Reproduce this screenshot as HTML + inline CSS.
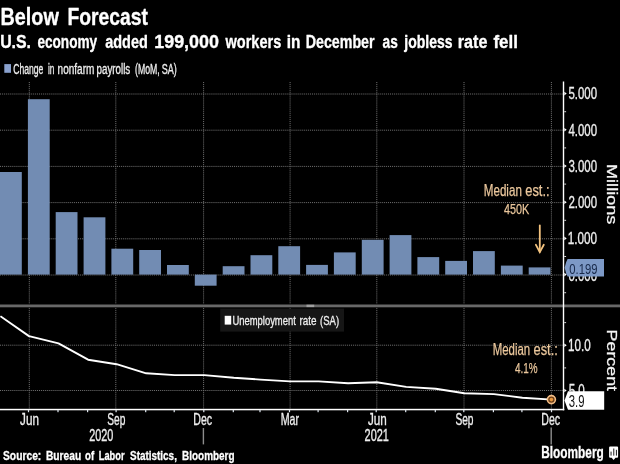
<!DOCTYPE html>
<html lang="en"><head><meta charset="utf-8"><title>Below Forecast</title>
<style>
html,body{margin:0;padding:0;background:#000;}
body{width:620px;height:464px;overflow:hidden;}
svg{display:block;font-family:"Liberation Sans", Arial, sans-serif;}
text{white-space:pre;}
</style></head><body>
<svg width="620" height="464" viewBox="0 0 620 464">
<rect x="0" y="0" width="620" height="464" fill="#000"/>
<text y="25.4" font-size="24.3" font-weight="bold" fill="#fff" stroke="#fff" stroke-width="0.35" stroke-linejoin="round"><tspan x="0.48" textLength="58.33" lengthAdjust="spacingAndGlyphs">Below</tspan> <tspan x="67.51" textLength="80.37" lengthAdjust="spacingAndGlyphs">Forecast</tspan></text>
<text y="47.6" font-size="18.8" font-weight="bold" fill="#fff" stroke="#fff" stroke-width="0.35" stroke-linejoin="round"><tspan x="0.15" textLength="30.87" lengthAdjust="spacingAndGlyphs">U.S.</tspan> <tspan x="37.4" textLength="59.8" lengthAdjust="spacingAndGlyphs">economy</tspan> <tspan x="105.2" textLength="42.56" lengthAdjust="spacingAndGlyphs">added</tspan> <tspan x="154.25" textLength="64.68" lengthAdjust="spacingAndGlyphs">199,000</tspan> <tspan x="225.47" textLength="55.77" lengthAdjust="spacingAndGlyphs">workers</tspan> <tspan x="286.68" textLength="13.71" lengthAdjust="spacingAndGlyphs">in</tspan> <tspan x="305.74" textLength="68.83" lengthAdjust="spacingAndGlyphs">December</tspan> <tspan x="382.6" textLength="15.22" lengthAdjust="spacingAndGlyphs">as</tspan> <tspan x="404.25" textLength="48.29" lengthAdjust="spacingAndGlyphs">jobless</tspan> <tspan x="457.74" textLength="29.64" lengthAdjust="spacingAndGlyphs">rate</tspan> <tspan x="493.5" textLength="24.4" lengthAdjust="spacingAndGlyphs">fell</tspan></text>
<rect x="4.3" y="64.1" width="6.7" height="8.7" fill="#8aa2cf"/>
<text y="73.5" font-size="13.8" font-weight="normal" fill="#eee" stroke="#eee" stroke-width="0.32"><tspan x="13.2" textLength="30.1" lengthAdjust="spacingAndGlyphs">Change</tspan> <tspan x="48.0" textLength="6.4" lengthAdjust="spacingAndGlyphs">in</tspan> <tspan x="57.6" textLength="36.76" lengthAdjust="spacingAndGlyphs">nonfarm</tspan> <tspan x="96.5" textLength="33.73" lengthAdjust="spacingAndGlyphs">payrolls</tspan> <tspan x="135.0" textLength="24.73" lengthAdjust="spacingAndGlyphs">(MoM,</tspan> <tspan x="161.8" textLength="15.09" lengthAdjust="spacingAndGlyphs">SA)</tspan></text>
<g stroke="#707070" stroke-width="1" stroke-dasharray="1 0.95" fill="none">
<line x1="0" y1="275.0" x2="563.5" y2="275.0"/>
<line x1="0" y1="238.8" x2="563.5" y2="238.8"/>
<line x1="0" y1="202.6" x2="563.5" y2="202.6"/>
<line x1="0" y1="166.4" x2="563.5" y2="166.4"/>
<line x1="0" y1="130.2" x2="563.5" y2="130.2"/>
<line x1="0" y1="94.0" x2="563.5" y2="94.0"/>
<line x1="29.3" y1="82" x2="29.3" y2="304"/>
<line x1="29.3" y1="306" x2="29.3" y2="409"/>
<line x1="115.8" y1="82" x2="115.8" y2="304"/>
<line x1="115.8" y1="306" x2="115.8" y2="409"/>
<line x1="203.6" y1="82" x2="203.6" y2="304"/>
<line x1="203.6" y1="306" x2="203.6" y2="409"/>
<line x1="290.1" y1="82" x2="290.1" y2="304"/>
<line x1="290.1" y1="306" x2="290.1" y2="409"/>
<line x1="376.8" y1="82" x2="376.8" y2="304"/>
<line x1="376.8" y1="306" x2="376.8" y2="409"/>
<line x1="464" y1="82" x2="464" y2="304"/>
<line x1="464" y1="306" x2="464" y2="409"/>
<line x1="551.4" y1="82" x2="551.4" y2="304"/>
<line x1="551.4" y1="306" x2="551.4" y2="409"/>
<line x1="0" y1="390.5" x2="563.5" y2="390.5"/>
<line x1="0" y1="345.2" x2="563.5" y2="345.2"/>
</g>
<g fill="#728cb3">
<rect x="0.0" y="172.0" width="21.8" height="102.6"/>
<rect x="27.9" y="99.2" width="21.8" height="175.4"/>
<rect x="55.7" y="212.1" width="21.8" height="62.5"/>
<rect x="83.6" y="217.3" width="21.8" height="57.3"/>
<rect x="111.4" y="248.7" width="21.8" height="25.9"/>
<rect x="139.2" y="250.0" width="21.8" height="24.6"/>
<rect x="167.0" y="265.0" width="21.8" height="9.6"/>
<rect x="194.8" y="274.6" width="21.8" height="11.1"/>
<rect x="222.7" y="266.2" width="21.8" height="8.4"/>
<rect x="250.5" y="255.2" width="21.8" height="19.4"/>
<rect x="278.3" y="246.2" width="21.8" height="28.4"/>
<rect x="306.1" y="264.9" width="21.8" height="9.7"/>
<rect x="333.9" y="252.4" width="21.8" height="22.2"/>
<rect x="361.8" y="239.8" width="21.8" height="34.8"/>
<rect x="389.6" y="235.1" width="21.8" height="39.5"/>
<rect x="417.4" y="257.1" width="21.8" height="17.5"/>
<rect x="445.2" y="260.9" width="21.8" height="13.7"/>
<rect x="473.0" y="251.1" width="21.8" height="23.5"/>
<rect x="500.9" y="265.6" width="21.8" height="9.0"/>
<rect x="528.7" y="267.4" width="21.8" height="7.2"/>
</g>
<text y="196.2" font-size="15.8" font-weight="normal" fill="#ebc79c" stroke="#ebc79c" stroke-width="0.25"><tspan x="483.76" textLength="38.11" lengthAdjust="spacingAndGlyphs">Median</tspan> <tspan x="525.2" textLength="24.44" lengthAdjust="spacingAndGlyphs">est.:</tspan></text>
<text y="214.4" font-size="15.2" font-weight="normal" fill="#ebc79c" stroke="#ebc79c" stroke-width="0.25"><tspan x="503.9" textLength="25.29" lengthAdjust="spacingAndGlyphs">450K</tspan></text>
<g stroke="#f2c27e" stroke-width="1.8" fill="none" stroke-linecap="round"><line x1="539.8" y1="225.5" x2="539.8" y2="251.8"/><polyline points="535.9,244.8 539.8,252.2 543.8,244.8"/></g>
<rect x="0" y="304.5" width="620" height="2.8" fill="#686868"/>
<rect x="306.5" y="304.7" width="7.7" height="2.4" fill="#a0a0a0"/>
<rect x="220.2" y="308.6" width="123.8" height="23" fill="#161616"/>
<rect x="224.7" y="315.8" width="6.5" height="8.8" fill="#fff"/>
<text y="325.3" font-size="13.2" font-weight="normal" fill="#eee" stroke="#eee" stroke-width="0.32"><tspan x="232.38" textLength="63.48" lengthAdjust="spacingAndGlyphs">Unemployment</tspan> <tspan x="299.4" textLength="17.05" lengthAdjust="spacingAndGlyphs">rate</tspan> <tspan x="320.0" textLength="19.08" lengthAdjust="spacingAndGlyphs">(SA)</tspan></text>
<polyline points="0.4,316.2 29.0,336.1 58.5,343.4 88.1,359.7 116.6,364.2 146.2,373.3 174.7,375.1 204.3,375.1 233.8,377.8 260.5,379.6 290.0,381.4 318.6,381.4 348.1,383.3 376.7,382.3 406.2,386.9 435.8,388.7 464.3,393.2 493.9,394.1 522.4,397.7 552.0,399.6" fill="none" stroke="#fff" stroke-width="1.9" stroke-linejoin="round"/>
<text y="355.2" font-size="15.8" font-weight="normal" fill="#ebc79c" stroke="#ebc79c" stroke-width="0.25"><tspan x="492.68" textLength="37.49" lengthAdjust="spacingAndGlyphs">Median</tspan> <tspan x="533.5" textLength="24.33" lengthAdjust="spacingAndGlyphs">est.:</tspan></text>
<text y="373.3" font-size="15.2" font-weight="normal" fill="#ebc79c" stroke="#ebc79c" stroke-width="0.25"><tspan x="515.0" textLength="22.63" lengthAdjust="spacingAndGlyphs">4.1%</tspan></text>
<circle cx="551.4" cy="399.6" r="4.0" fill="#6e4018" stroke="#f3bd85" stroke-width="1.6"/><circle cx="551.4" cy="399.6" r="1.8" fill="#e8963c"/>
<rect x="562.8" y="81.5" width="1.4" height="328.8" fill="#fff"/>
<rect x="0" y="408.8" width="564.3" height="1.5" fill="#fff"/>
<g fill="#fff">
<polygon points="564.3,236.6 566.7,238.4 564.3,240.2"/>
<polygon points="564.3,200.4 566.7,202.2 564.3,204.0"/>
<polygon points="564.3,164.2 566.7,166.0 564.3,167.8"/>
<polygon points="564.3,128.0 566.7,129.8 564.3,131.6"/>
<polygon points="564.3,91.8 566.7,93.6 564.3,95.4"/>
<rect x="564.3" y="292.2" width="1.8" height="1" opacity="0.85"/>
<rect x="564.3" y="256.0" width="1.8" height="1" opacity="0.85"/>
<rect x="564.3" y="219.8" width="1.8" height="1" opacity="0.85"/>
<rect x="564.3" y="183.6" width="1.8" height="1" opacity="0.85"/>
<rect x="564.3" y="147.4" width="1.8" height="1" opacity="0.85"/>
<rect x="564.3" y="111.2" width="1.8" height="1" opacity="0.85"/>
<polygon points="564.3,272.8 566.7,274.6 564.3,276.4"/>
<polygon points="564.3,388.7 566.7,390.5 564.3,392.3"/>
<polygon points="564.3,343.4 566.7,345.2 564.3,347.0"/>
<rect x="564.3" y="367.4" width="1.8" height="1" opacity="0.85"/>
<rect x="564.3" y="322.1" width="1.8" height="1" opacity="0.85"/>
</g>
<g fill="#dfe6ee">
<rect x="27.9" y="410" width="1.2" height="2.2"/>
<rect x="57.4" y="410" width="1.2" height="2.2"/>
<rect x="87.0" y="410" width="1.2" height="2.2"/>
<rect x="115.5" y="410" width="1.2" height="2.2"/>
<rect x="145.1" y="410" width="1.2" height="2.2"/>
<rect x="173.6" y="410" width="1.2" height="2.2"/>
<rect x="203.2" y="410" width="1.2" height="2.2"/>
<rect x="232.7" y="410" width="1.2" height="2.2"/>
<rect x="259.4" y="410" width="1.2" height="2.2"/>
<rect x="288.9" y="410" width="1.2" height="2.2"/>
<rect x="317.5" y="410" width="1.2" height="2.2"/>
<rect x="347.0" y="410" width="1.2" height="2.2"/>
<rect x="375.6" y="410" width="1.2" height="2.2"/>
<rect x="405.1" y="410" width="1.2" height="2.2"/>
<rect x="434.7" y="410" width="1.2" height="2.2"/>
<rect x="463.2" y="410" width="1.2" height="2.2"/>
<rect x="492.8" y="410" width="1.2" height="2.2"/>
<rect x="521.3" y="410" width="1.2" height="2.2"/>
<rect x="550.9" y="410" width="1.2" height="2.2"/>
</g>
<text y="244.1" font-size="15.8" font-weight="normal" fill="#eee" stroke="#eee" stroke-width="0.32"><tspan x="567.66" textLength="29.38" lengthAdjust="spacingAndGlyphs">1.000</tspan></text>
<text y="207.9" font-size="15.8" font-weight="normal" fill="#eee" stroke="#eee" stroke-width="0.32"><tspan x="568.4" textLength="28.64" lengthAdjust="spacingAndGlyphs">2.000</tspan></text>
<text y="171.7" font-size="15.8" font-weight="normal" fill="#eee" stroke="#eee" stroke-width="0.32"><tspan x="568.4" textLength="28.64" lengthAdjust="spacingAndGlyphs">3.000</tspan></text>
<text y="135.5" font-size="15.8" font-weight="normal" fill="#eee" stroke="#eee" stroke-width="0.32"><tspan x="568.4" textLength="28.64" lengthAdjust="spacingAndGlyphs">4.000</tspan></text>
<text y="99.3" font-size="15.8" font-weight="normal" fill="#eee" stroke="#eee" stroke-width="0.32"><tspan x="568.4" textLength="28.64" lengthAdjust="spacingAndGlyphs">5.000</tspan></text>
<text y="280.9" font-size="15.8" font-weight="normal" fill="#eee" stroke="#eee" stroke-width="0.32"><tspan x="568.4" textLength="28.64" lengthAdjust="spacingAndGlyphs">0.000</tspan></text>
<text y="350.9" font-size="15.8" font-weight="normal" fill="#eee" stroke="#eee" stroke-width="0.32"><tspan x="567.96" textLength="22.68" lengthAdjust="spacingAndGlyphs">10.0</tspan></text>
<text y="396.2" font-size="15.8" font-weight="normal" fill="#eee" stroke="#eee" stroke-width="0.32"><tspan x="568.7" textLength="16.14" lengthAdjust="spacingAndGlyphs">5.0</tspan></text>
<polygon points="564.6,267.7 566.2,262 567.6,259 604,259 604,276.5 567.6,276.5 566.2,273.5" fill="#7d99c6"/>
<text y="273.5" font-size="15.4" font-weight="normal" fill="#18294a"><tspan x="569.3" textLength="28.21" lengthAdjust="spacingAndGlyphs">0.199</tspan></text>
<polygon points="564.5,400.4 568,391.3 604.2,391.3 604.2,409.7 568,409.7" fill="#fff"/>
<text y="406.5" font-size="16" font-weight="normal" fill="#111"><tspan x="568.8" textLength="15.73" lengthAdjust="spacingAndGlyphs">3.9</tspan></text>
<text transform="translate(607,164) rotate(90) scale(1,0.83)" font-size="16.6" fill="#f4f4f4" stroke="#f4f4f4" stroke-width="0.3" textLength="60.4" lengthAdjust="spacingAndGlyphs">Millions</text>
<text transform="translate(607,329.6) rotate(90) scale(1,0.83)" font-size="16.6" fill="#f4f4f4" stroke="#f4f4f4" stroke-width="0.3" textLength="61.4" lengthAdjust="spacingAndGlyphs">Percent</text>
<text y="424.6" font-size="16" font-weight="normal" fill="#eee" stroke="#eee" stroke-width="0.32"><tspan x="20.1" textLength="18.86" lengthAdjust="spacingAndGlyphs">Jun</tspan></text>
<text y="424.6" font-size="16" font-weight="normal" fill="#eee" stroke="#eee" stroke-width="0.32"><tspan x="107.3" textLength="18.14" lengthAdjust="spacingAndGlyphs">Sep</tspan></text>
<text y="424.6" font-size="16" font-weight="normal" fill="#eee" stroke="#eee" stroke-width="0.32"><tspan x="193.24" textLength="18.86" lengthAdjust="spacingAndGlyphs">Dec</tspan></text>
<text y="424.6" font-size="16" font-weight="normal" fill="#eee" stroke="#eee" stroke-width="0.32"><tspan x="280.63" textLength="18.42" lengthAdjust="spacingAndGlyphs">Mar</tspan></text>
<text y="424.6" font-size="16" font-weight="normal" fill="#eee" stroke="#eee" stroke-width="0.32"><tspan x="367.9" textLength="18.86" lengthAdjust="spacingAndGlyphs">Jun</tspan></text>
<text y="424.6" font-size="16" font-weight="normal" fill="#eee" stroke="#eee" stroke-width="0.32"><tspan x="455.4" textLength="18.14" lengthAdjust="spacingAndGlyphs">Sep</tspan></text>
<text y="424.6" font-size="16" font-weight="normal" fill="#eee" stroke="#eee" stroke-width="0.32"><tspan x="541.24" textLength="18.86" lengthAdjust="spacingAndGlyphs">Dec</tspan></text>
<text y="441.4" font-size="15.9" font-weight="normal" fill="#eee" stroke="#eee" stroke-width="0.32"><tspan x="89.3" textLength="24.09" lengthAdjust="spacingAndGlyphs">2020</tspan></text>
<text y="441.4" font-size="15.9" font-weight="normal" fill="#eee" stroke="#eee" stroke-width="0.32"><tspan x="364.6" textLength="24.29" lengthAdjust="spacingAndGlyphs">2021</tspan></text>
<rect x="202.7" y="428" width="1.4" height="16.4" fill="#8c8c8c"/>
<rect x="550.5" y="427.5" width="1.4" height="17" fill="#8c8c8c"/>
<text y="459.8" font-size="12.6" font-weight="bold" fill="#fff" stroke="#fff" stroke-width="0.3"><tspan x="3.0" textLength="38.27" lengthAdjust="spacingAndGlyphs">Source:</tspan> <tspan x="46.0" textLength="35.16" lengthAdjust="spacingAndGlyphs">Bureau</tspan> <tspan x="85.1" textLength="9.08" lengthAdjust="spacingAndGlyphs">of</tspan> <tspan x="98.8" textLength="25.73" lengthAdjust="spacingAndGlyphs">Labor</tspan> <tspan x="130.1" textLength="46.79" lengthAdjust="spacingAndGlyphs">Statistics,</tspan> <tspan x="182.1" textLength="52.45" lengthAdjust="spacingAndGlyphs">Bloomberg</tspan></text>
<text y="458.1" font-size="16.2" font-weight="bold" fill="#fff" stroke="#fff" stroke-width="0.3"><tspan x="541.17" textLength="62.69" lengthAdjust="spacingAndGlyphs">Bloomberg</tspan></text>
<g><path d="M610.1 446.5h7a1 1 0 0 1 1 1v9.3a1 1 0 0 1-1 1h-1.6l-1.9 2.3-1.9-2.3h-1.6a1 1 0 0 1-1-1v-9.3a1 1 0 0 1 1-1z" fill="#fff"/><rect x="610.5" y="451.6" width="1.1" height="4" fill="#333"/><rect x="613.2" y="448.5" width="1.1" height="7.1" fill="#333"/><rect x="615.9" y="449.8" width="1.1" height="5.8" fill="#333"/></g>
</svg></body></html>
